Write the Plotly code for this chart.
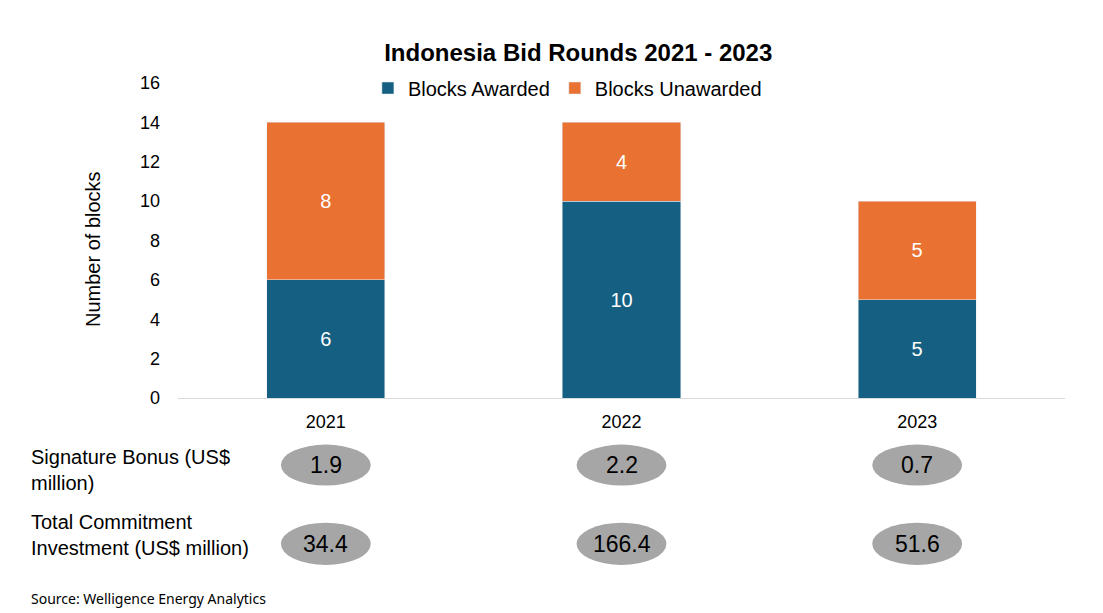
import plotly.graph_objects as go

# data
years = ["2021", "2022", "2023"]
blocks_awarded = [6, 10, 5]
blocks_unawarded = [8, 4, 5]
signature_bonus = ["1.9", "2.2", "0.7"]
commitment_investment = ["34.4", "166.4", "51.6"]
y_ticks = [0, 2, 4, 6, 8, 10, 12, 14, 16]

BLUE = "#156082"
ORANGE = "#E97132"
GREY = "#A6A6A6"
FONT = "Liberation Sans, Arial, sans-serif"

fig = go.Figure()
fig.add_trace(go.Bar(x=years, y=blocks_awarded, name="Blocks Awarded",
                     marker_color=BLUE, text=blocks_awarded, textposition="inside",
                     insidetextanchor="middle", textfont=dict(color="white", size=20),
                     width=0.4))
fig.add_trace(go.Bar(x=years, y=blocks_unawarded, name="Blocks Unawarded",
                     marker_color=ORANGE, text=blocks_unawarded, textposition="inside",
                     insidetextanchor="middle", textfont=dict(color="white", size=20),
                     width=0.4))

# the two value rows under the chart, drawn as grey ellipses per year
rows = [(signature_bonus, -0.213, 0.065), (commitment_investment, -0.463, 0.067)]
for vals, yc, hh in rows:
    for i, v in enumerate(vals):
        fig.add_shape(type="circle", xref="x", yref="paper",
                      x0=i - 0.152, x1=i + 0.152, y0=yc - hh, y1=yc + hh,
                      fillcolor=GREY, line=dict(width=0), layer="above")
        fig.add_annotation(x=i, y=yc, xref="x", yref="paper", text=v,
                           xanchor="center", yanchor="middle",
                           showarrow=False, font=dict(size=23, color="black"))

left = (29 - 178) / 887
fig.add_annotation(x=left, y=-0.227, xref="paper", yref="paper",
                   text="Signature Bonus (US$<br>million)", yanchor="middle",
                   showarrow=False, xanchor="left", align="left", font=dict(size=20, color="black"))
fig.add_annotation(x=left, y=-0.435, xref="paper", yref="paper",
                   text="Total Commitment<br>Investment (US$ million)", yanchor="middle",
                   showarrow=False, xanchor="left", align="left", font=dict(size=20, color="black"))
fig.add_annotation(x=left, y=-0.638, xref="paper", yref="paper",
                   text="Source: Welligence Energy Analytics", showarrow=False,
                   xanchor="left", yanchor="middle",
                   font=dict(size=14, color="black", family="Noto Sans, sans-serif"))
# y axis title
fig.add_annotation(x=(93 - 178) / 887, y=0.473, xref="paper", yref="paper",
                   text="Number of blocks", textangle=-90, showarrow=False,
                   xanchor="center", yanchor="middle",
                   font=dict(size=20, color="black"))

fig.update_layout(
    width=1103, height=613,
    barmode="stack",
    paper_bgcolor="white", plot_bgcolor="white",
    font=dict(family=FONT, color="black", size=18),
    margin=dict(l=170, r=46, t=75, b=223, autoexpand=False),
    title=dict(text="<b>Indonesia Bid Rounds 2021 - 2023</b>", x=0.517, xanchor="center",
               y=0.928, yanchor="middle", font=dict(size=24, color="black")),
    legend=dict(orientation="h", x=0.439, xanchor="center", y=0.984, yanchor="middle",
                font=dict(size=20), itemwidth=30, traceorder="normal"),
    showlegend=True,
)
fig.update_xaxes(type="category", automargin=False, showgrid=False, showline=True,
                 linecolor="#D9D9D9", linewidth=1, tickfont=dict(size=18), ticks="", ticklen=0,
                 ticklabelstandoff=7)
fig.update_yaxes(range=[0, 16], tickvals=y_ticks, automargin=False, showgrid=False,
                 showline=False, zeroline=False, tickfont=dict(size=18), ticklabelstandoff=17)

fig.write_html("out.html")
